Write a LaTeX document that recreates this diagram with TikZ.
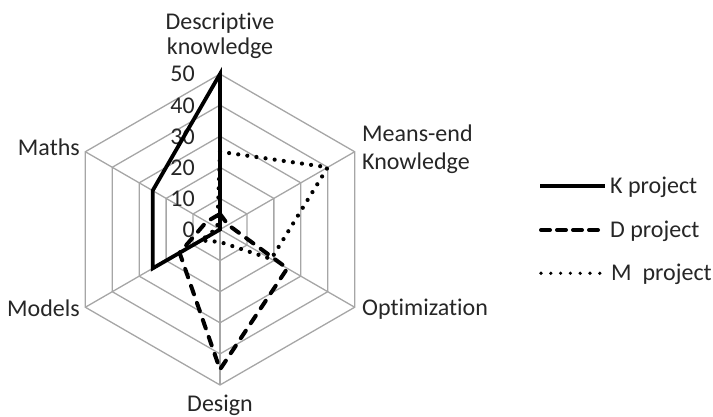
\documentclass[tikz,border=0pt]{standalone}
\usepackage{fontspec}
\setmainfont{Carlito}[Ligatures={NoCommon}]
\begin{document}
\begin{tikzpicture}[x=1pt,y=1pt,
  grid/.style={draw=gray!70, line width=1.3pt},
  kline/.style={line width=3.8pt, line join=miter},
  dline/.style={line width=4pt, line cap=round, line join=round, dash pattern=on 9pt off 9pt},
  mline/.style={line width=4.2pt, line cap=round, dash pattern=on 0pt off 9.2pt},
  lbl/.style={font=\fontsize{24}{28}\selectfont, inner sep=0pt, text=black!85},
  tick/.style={font=\fontsize{24}{28}\selectfont, inner sep=0pt, anchor=base east, text=black!85},
]
\useasboundingbox (0,0) rectangle (713,417);

\begin{scope}[shift={(220,187.5)}]
  % hexagonal rings at 10, 20, ..., 50 (31.1pt per 10 units)
  \foreach \r in {1,...,5}
    \draw[grid] (90:{\r*31.1}) -- (30:{\r*31.1}) -- (-30:{\r*31.1}) -- (-90:{\r*31.1})
                -- (-150:{\r*31.1}) -- (150:{\r*31.1}) -- cycle;
  % spokes
  \foreach \a in {90,30,-30,-90,-150,150}
    \draw[grid] (0,0) -- (\a:155.5);

  % scale values
  \foreach \r in {0,...,5}
    \node[tick] (s\r) at (-25,{-8+\r*31.1}) {\the\numexpr\r*10\relax};

  % K project: 50, 0, 0, 0, 25, 25
  \coordinate (k1) at (90:{50*3.11});
  \coordinate (k2) at (30:0);
  \coordinate (k3) at (-30:0);
  \coordinate (k4) at (-90:0);
  \coordinate (k5) at (-150:{25*3.11});
  \coordinate (k6) at (150:{25*3.11});
  \draw[kline] (k1) -- (k2) -- (k3) -- (k4) -- (k5) -- (k6) -- cycle;

  % D project: 5, 3, 25, 45, 15, 5
  \coordinate (d1) at (90:{5*3.11});
  \coordinate (d2) at (30:{3*3.11});
  \coordinate (d3) at (-30:{25*3.11});
  \coordinate (d4) at (-90:{45*3.11});
  \coordinate (d5) at (-150:{15*3.11});
  \coordinate (d6) at (150:{5*3.11});
  \draw[dline] (d1) -- (d2) -- (d3) -- (d4) -- (d5) -- (d6) -- cycle;

  % M project: 25, 40, 19, 4, 7, 1
  \coordinate (m1) at (90:{25*3.11});
  \coordinate (m2) at (30:{40*3.11});
  \coordinate (m3) at (-30:{19*3.11});
  \coordinate (m4) at (-90:{4*3.11});
  \coordinate (m5) at (-150:{7*3.11});
  \coordinate (m6) at (150:{1*3.11});
  \draw[mline] (m1) -- (m2) -- (m3) -- (m4) -- (m5) -- (m6) -- cycle;
\end{scope}

% axis titles
\node[lbl, anchor=base] (desc1) at (220,387) {Descriptive};
\node[lbl, anchor=base] (desc2) at (220,362) {knowledge};
\node[lbl, anchor=base west] (mean1) at (362,275.3) {Means-end};
\node[lbl, anchor=base west] (mean2) at (362,247) {Knowledge};
\node[lbl, anchor=base west] (opt) at (362,101.5) {Optimization};
\node[lbl, anchor=base] (des) at (220,5.5) {Design};
\node[lbl, anchor=base east] (mod) at (80,100.3) {Models};
\node[lbl, anchor=base east] (mat) at (80,261) {Maths};

% legend
\node[lbl, anchor=base west] (kt) at (610,223.7) {K project};
\node[lbl, anchor=base west] (dt) at (610,179.3) {D project};
\node[lbl, anchor=base west] (mt) at (611,136.3) {M\ \ project};
\coordinate (ka) at (540,231);   \coordinate (kb) at (605,231);
\coordinate (da) at (541,187);   \coordinate (db) at (605,187);
\coordinate (ma) at (541,143.7); \coordinate (mb) at (602,143.7);
\draw[kline] (ka) -- (kb);
\draw[dline, dash pattern=on 9pt off 7pt] (da) -- (db);
\draw[line width=3.6pt, line cap=round, dash pattern=on 0pt off 9.8pt] (ma) -- (mb);
\end{tikzpicture}
\end{document}
